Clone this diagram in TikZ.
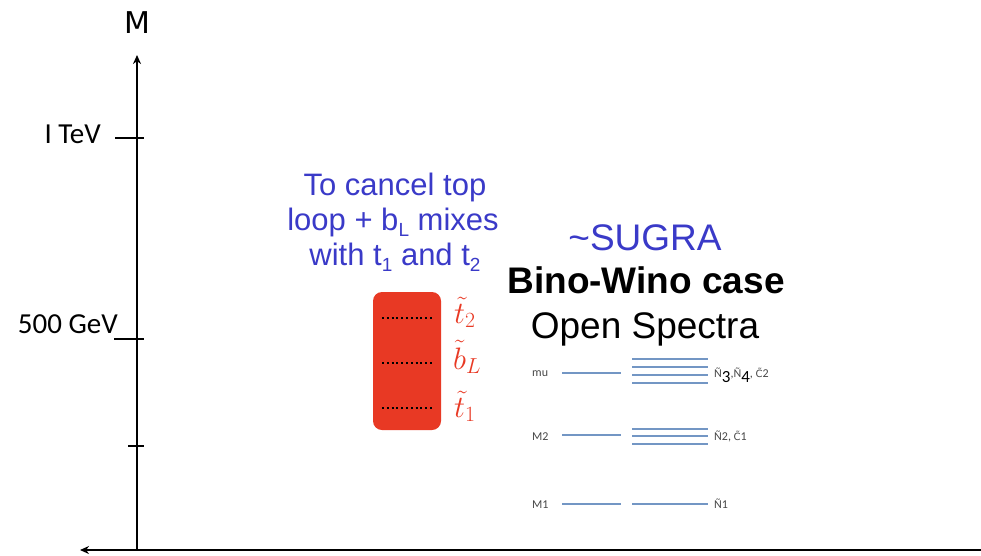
\RequirePackage{fix-cm}
\documentclass[tikz,border=0pt]{standalone}
\usepackage{fontspec}
\setmainfont{Liberation Sans}
\newfontfamily\axisfont{Carlito}
\newfontfamily\mfont{DejaVu Sans}
\usetikzlibrary{arrows.meta}

\definecolor{boxred}{RGB}{232,57,36}
\definecolor{noteblue}{RGB}{58,58,200}
\definecolor{levelblue}{RGB}{115,150,196}
\definecolor{labgray}{RGB}{70,70,70}

\newcommand{\fsz}[1]{\fontsize{#1}{#1}\selectfont}
% chargino symbol: C with a combining tilde
\newcommand{\chino}{{\mfont\fsz{10}C\char"0303}}

\begin{document}
\begin{tikzpicture}[x=1pt,y=-1pt,
  axisline/.style={line width=2pt,black},
  axistip/.style={-{Stealth[length=9pt,width=8pt]}},
  tick/.style={line width=2pt,black},
  txt/.style={inner sep=0pt,anchor=base},
  note/.style={txt,text=noteblue,font=\fsz{31}},
  head/.style={txt,font=\fsz{37}},
  level/.style={line width=2pt,levelblue},
  small/.style={inner sep=0pt,anchor=base west,text=labgray,font=\axisfont\fsz{12}},
  marker/.style={line width=2.2pt,black,dash pattern=on 2pt off 2.8pt},
  squark/.style={txt,anchor=base west,text=boxred,font=\fsz{31}}]

\useasboundingbox (0,0) rectangle (981,555);

% mass axis
\coordinate (origin) at (137,550);
\coordinate (ytop) at (137,55);
\coordinate (xleft) at (80,550);
\coordinate (xright) at (981,550);
\draw[axisline,axistip] (origin) -- (ytop);
\draw[axisline,axistip] (xright) -- (xleft);
\node[txt,font=\mfont\fsz{30}] (mlabel) at (137,33) {M};

% scale ticks
\draw[tick] (115,138) -- (144,138);
\draw[tick] (114,339) -- (144,339);
\draw[tick] (128,446) -- (144,446);
\node[txt,anchor=base east,font=\axisfont\fsz{29}] (tev) at (101,143) {I TeV};
\node[txt,anchor=base east,font=\axisfont\fsz{29}] (gev) at (118,333) {500 GeV};

% note on the stop sector
\node[note] (note1) at (395,195) {To cancel top};
\node[note] (note2) at (393,230) {loop + b\raisebox{-6pt}{\fsz{19}L} mixes};
\node[note] (note3) at (395,265) {with t\raisebox{-6pt}{\fsz{19}1} and t\raisebox{-6pt}{\fsz{19}2}};

% stop / sbottom band
\node[fill=boxred,rounded corners=9pt,minimum width=68pt,minimum height=138pt,inner sep=0pt] (band) at (407,361) {};
\draw[marker] (382,318) -- (434,318);
\draw[marker] (382,363) -- (434,363);
\draw[marker] (382,408) -- (434,408);
\node[squark] (t2) at (454,323) {$\tilde{t}_2$};
\node[squark] (bL) at (453,369) {$\tilde{b}_L$};
\node[squark] (t1) at (454,417) {$\tilde{t}_1$};

% scenario headings
\node[head,text=noteblue] (sugra) at (645,250) {\textasciitilde SUGRA};
\node[head,font=\fsz{37}\bfseries] (bino) at (646,293) {Bino-Wino case};
\node[head] (open) at (645,338) {Open Spectra};

% gaugino / higgsino spectrum
\node[small] (mu) at (532,376) {mu};
\node[small] (m2) at (532,440) {M2};
\node[small] (m1) at (532,508) {M1};

\draw[level] (562,373) -- (621,373);
\draw[level] (562,435) -- (621,435);
\draw[level] (562,504) -- (621,504);

\foreach \yy in {359,367,375,383} \draw[level] (632,\yy) -- (708,\yy);
\foreach \yy in {429,436,444} \draw[level] (632,\yy) -- (708,\yy);
\draw[level] (632,504) -- (708,504);

\node[small] (hig) at (714,377) {Ñ\raisebox{-5pt}{\fsz{17}\textcolor{black}{3}},Ñ\raisebox{-5pt}{\fsz{17}\textcolor{black}{4}}, \chino2};
\node[small] (win) at (714,440) {Ñ2, \chino1};
\node[small] (bin) at (714,508) {Ñ1};

\end{tikzpicture}
\end{document}
